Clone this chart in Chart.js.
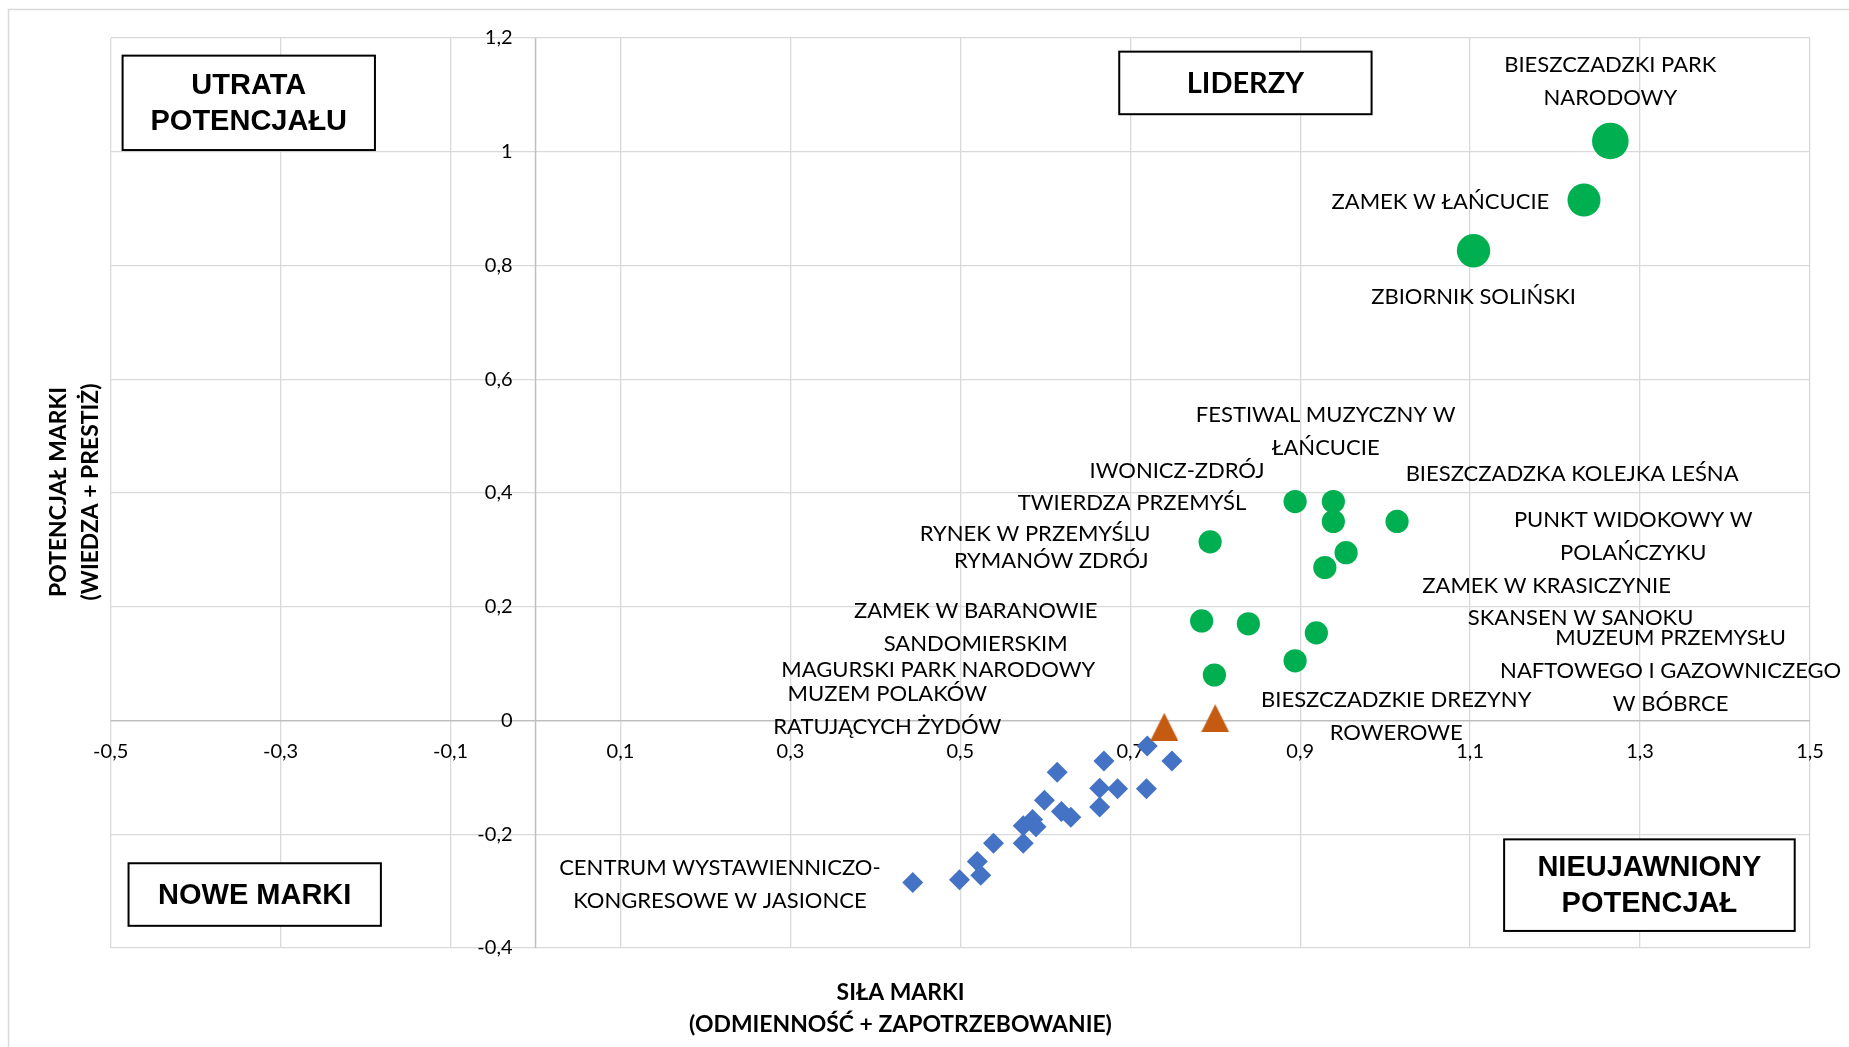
<!DOCTYPE html>
<html lang="pl">
<head>
<meta charset="utf-8">
<script src="https://cdn.jsdelivr.net/npm/chart.js@4"></script>
<style>
  html, body { margin: 0; padding: 0; background: #fff; }
  #wrap { width: 1849px; height: 1047px; }
</style>
</head>
<body>
<div id="wrap"><canvas id="c" width="1849" height="1047"></canvas></div>
<script>
// ---------------- DATA ----------------
const xTicks = [-0.5, -0.3, -0.1, 0.1, 0.3, 0.5, 0.7, 0.9, 1.1, 1.3, 1.5];
const yTicks = [-0.4, -0.2, 0, 0.2, 0.4, 0.6, 0.8, 1, 1.2];

// Liderzy (large green markers)
const leaderNames = ['BIESZCZADZKI PARK NARODOWY', 'ZAMEK W ŁAŃCUCIE', 'ZBIORNIK SOLIŃSKI'];
const leaderX = [1.265, 1.234, 1.104];
const leaderY = [1.019, 0.915, 0.826];

// other leaders (small green markers)
const greenNames = ['IWONICZ-ZDRÓJ', 'FESTIWAL MUZYCZNY W ŁAŃCUCIE', 'TWIERDZA PRZEMYŚL',
  'BIESZCZADZKA KOLEJKA LEŚNA', 'PUNKT WIDOKOWY W POLAŃCZYKU', 'ZAMEK W KRASICZYNIE',
  'RYNEK W PRZEMYŚLU', 'RYMANÓW ZDRÓJ', 'ZAMEK W BARANOWIE SANDOMIERSKIM',
  'SKANSEN W SANOKU', 'MUZEUM PRZEMYSŁU NAFTOWEGO I GAZOWNICZEGO W BÓBRCE', 'MAGURSKI PARK NARODOWY'];
const greenX = [0.894, 0.939, 0.939, 1.014, 0.954, 0.929, 0.794, 0.839, 0.784, 0.919, 0.894, 0.799];
const greenY = [0.385, 0.385, 0.350, 0.350, 0.295, 0.269, 0.314, 0.170, 0.175, 0.154, 0.105, 0.080];

// orange triangles
const orangeNames = ['MUZEM POLAKÓW RATUJĄCYCH ŻYDÓW', 'BIESZCZADZKIE DREZYNY ROWEROWE'];
const orangeX = [0.740, 0.800];
const orangeY = [-0.011, 0.004];

// blue diamonds (new brands)
const blueNames = ['', '', '', '', '', '', '', '', '', '', '', '', '', '', '', '', '', '', '',
  'CENTRUM WYSTAWIENNICZO-KONGRESOWE W JASIONCE'];
const blueX = [0.720, 0.749, 0.669, 0.614, 0.664, 0.685, 0.719, 0.599, 0.664, 0.619,
  0.630, 0.585, 0.574, 0.589, 0.574, 0.539, 0.520, 0.524, 0.499, 0.444];
const blueY = [-0.045, -0.071, -0.071, -0.091, -0.119, -0.120, -0.120, -0.140, -0.152, -0.160,
  -0.170, -0.174, -0.185, -0.187, -0.216, -0.216, -0.248, -0.272, -0.280, -0.285];

// ---------------- LABEL LAYOUT (axis units) ----------------
const labelLayout = [
  { name: 'BIESZCZADZKI PARK NARODOWY', lines: ['BIESZCZADZKI PARK', 'NARODOWY'], x: 1.265, y: 1.124 },
  { name: 'ZAMEK W ŁAŃCUCIE', lines: ['ZAMEK W ŁAŃCUCIE'], x: 1.065, y: 0.912 },
  { name: 'ZBIORNIK SOLIŃSKI', lines: ['ZBIORNIK SOLIŃSKI'], x: 1.104, y: 0.745 },
  { name: 'FESTIWAL MUZYCZNY W ŁAŃCUCIE', lines: ['FESTIWAL MUZYCZNY W', 'ŁAŃCUCIE'], x: 0.930, y: 0.509 },
  { name: 'IWONICZ-ZDRÓJ', lines: ['IWONICZ-ZDRÓJ'], x: 0.755, y: 0.439 },
  { name: 'TWIERDZA PRZEMYŚL', lines: ['TWIERDZA PRZEMYŚL'], x: 0.702, y: 0.382 },
  { name: 'RYNEK W PRZEMYŚLU', lines: ['RYNEK W PRZEMYŚLU'], x: 0.588, y: 0.328 },
  { name: 'RYMANÓW ZDRÓJ', lines: ['RYMANÓW ZDRÓJ'], x: 0.607, y: 0.280 },
  { name: 'ZAMEK W BARANOWIE SANDOMIERSKIM', lines: ['ZAMEK W BARANOWIE', 'SANDOMIERSKIM'], x: 0.518, y: 0.164 },
  { name: 'MAGURSKI PARK NARODOWY', lines: ['MAGURSKI PARK NARODOWY'], x: 0.474, y: 0.089 },
  { name: 'MUZEM POLAKÓW RATUJĄCYCH ŻYDÓW', lines: ['MUZEM POLAKÓW', 'RATUJĄCYCH ŻYDÓW'], x: 0.414, y: 0.018 },
  { name: 'BIESZCZADZKA KOLEJKA LEŚNA', lines: ['BIESZCZADZKA KOLEJKA LEŚNA'], x: 1.220, y: 0.433 },
  { name: 'PUNKT WIDOKOWY W POLAŃCZYKU', lines: ['PUNKT WIDOKOWY W', 'POLAŃCZYKU'], x: 1.292, y: 0.323 },
  { name: 'ZAMEK W KRASICZYNIE', lines: ['ZAMEK W KRASICZYNIE'], x: 1.190, y: 0.237 },
  { name: 'SKANSEN W SANOKU', lines: ['SKANSEN W SANOKU'], x: 1.230, y: 0.180 },
  { name: 'MUZEUM PRZEMYSŁU NAFTOWEGO I GAZOWNICZEGO W BÓBRCE', lines: ['MUZEUM PRZEMYSŁU', 'NAFTOWEGO I GAZOWNICZEGO', 'W BÓBRCE'], x: 1.336, y: 0.088 },
  { name: 'BIESZCZADZKIE DREZYNY ROWEROWE', lines: ['BIESZCZADZKIE DREZYNY', 'ROWEROWE'], x: 1.013, y: 0.008 },
  { name: 'CENTRUM WYSTAWIENNICZO-KONGRESOWE W JASIONCE', lines: ['CENTRUM WYSTAWIENNICZO-', 'KONGRESOWE W JASIONCE'], x: 0.217, y: -0.289 }
];

const quadrantBoxes = [
  { lines: ['UTRATA', 'POTENCJAŁU'], x0: -0.486, x1: -0.189, y0: 1.169, y1: 1.003, family: '"Liberation Sans", Arial, sans-serif' },
  { lines: ['LIDERZY'], x0: 0.687, x1: 0.984, y0: 1.176, y1: 1.066, family: 'Lato, sans-serif' },
  { lines: ['NOWE MARKI'], x0: -0.479, x1: -0.182, y0: -0.251, y1: -0.361, family: '"Liberation Sans", Arial, sans-serif' },
  { lines: ['NIEUJAWNIONY', 'POTENCJAŁ'], x0: 1.140, x1: 1.482, y0: -0.209, y1: -0.370, family: '"Liberation Sans", Arial, sans-serif' }
];

const xTitle = ['SIŁA MARKI', '(ODMIENNOŚĆ + ZAPOTRZEBOWANIE)'];
const yTitle = ['POTENCJAŁ MARKI', '(WIEDZA + PRESTIŻ)'];

// ---------------- HELPERS ----------------
const fmt = v => String(Math.round(v * 10) / 10).replace('.', ',');
const measureCtx = document.createElement('canvas').getContext('2d');
function fitSize(text, width, weight, family) {
  measureCtx.font = weight + ' 100px ' + family;
  return 100 * width / measureCtx.measureText(text).width;
}
const LABEL_FAMILY = 'Lato, "Open Sans", sans-serif';
const labelSize = fitSize('BIESZCZADZKA KOLEJKA LEŚNA', 333, 'normal', LABEL_FAMILY);
const titleSize = fitSize('(ODMIENNOŚĆ + ZAPOTRZEBOWANIE)', 423, 'bold', LABEL_FAMILY);

// triangle marker (Excel-style, centred on its bounding box)
const tri = document.createElement('canvas');
tri.width = 28; tri.height = 28;
(function () {
  const t = tri.getContext('2d');
  t.fillStyle = '#C55A11';
  t.beginPath(); t.moveTo(14, 0); t.lineTo(28, 28); t.lineTo(0, 28); t.closePath(); t.fill();
})();

const pts = (xs, ys) => xs.map((x, i) => ({ x: x, y: ys[i] }));

// ---------------- OVERLAY PLUGIN ----------------
const overlay = {
  id: 'overlay',
  beforeDraw(chart) {
    const c = chart.ctx;
    c.save();
    c.fillStyle = '#fff';
    c.fillRect(0, 0, chart.width, chart.height);
    c.strokeStyle = '#d9d9d9';
    c.lineWidth = 1.5;
    c.beginPath();
    c.moveTo(8.5, chart.height + 5); c.lineTo(8.5, 9.5); c.lineTo(chart.width + 5, 9.5);
    c.stroke();
    c.restore();
  },
  beforeDatasetsDraw(chart) {
    const c = chart.ctx, xs = chart.scales.x, ys = chart.scales.y;
    const x0 = xs.getPixelForValue(0), y0 = ys.getPixelForValue(0);
    c.save();
    // vertical axis line at x = 0
    c.strokeStyle = '#bfbfbf';
    c.lineWidth = 1.5;
    c.beginPath();
    c.moveTo(x0, chart.chartArea.top); c.lineTo(x0, chart.chartArea.bottom);
    c.stroke();
    // tick labels
    c.fillStyle = '#000';
    c.font = '20px ' + LABEL_FAMILY;
    c.textBaseline = 'middle';
    c.textAlign = 'right';
    yTicks.forEach(v => c.fillText(fmt(v), x0 - 23, ys.getPixelForValue(v)));
    c.textAlign = 'center';
    xTicks.forEach(v => c.fillText(fmt(v), xs.getPixelForValue(v), y0 + 31));
    c.restore();
  },
  afterDatasetsDraw(chart) {
    const c = chart.ctx, xs = chart.scales.x, ys = chart.scales.y;
    c.save();
    // data labels
    c.fillStyle = '#000';
    c.font = labelSize.toFixed(2) + 'px ' + LABEL_FAMILY;
    c.textAlign = 'center';
    c.textBaseline = 'middle';
    const lh = 33;
    labelLayout.forEach(l => {
      const cx = xs.getPixelForValue(l.x), cy = ys.getPixelForValue(l.y);
      const n = l.lines.length;
      l.lines.forEach((s, i) => c.fillText(s, cx, cy + (i - (n - 1) / 2) * lh));
    });
    // quadrant boxes
    quadrantBoxes.forEach(b => {
      const px0 = xs.getPixelForValue(b.x0), px1 = xs.getPixelForValue(b.x1);
      const py0 = ys.getPixelForValue(b.y0), py1 = ys.getPixelForValue(b.y1);
      c.fillStyle = '#fff';
      c.fillRect(px0, py0, px1 - px0, py1 - py0);
      c.strokeStyle = '#000';
      c.lineWidth = 2;
      c.strokeRect(px0, py0, px1 - px0, py1 - py0);
      c.fillStyle = '#000';
      c.font = 'bold 29px ' + b.family;
      const cx = (px0 + px1) / 2, cy = (py0 + py1) / 2 + 1;
      const n = b.lines.length;
      b.lines.forEach((s, i) => c.fillText(s, cx, cy + (i - (n - 1) / 2) * 36));
    });
    // axis titles
    c.font = 'bold ' + titleSize.toFixed(2) + 'px ' + LABEL_FAMILY;
    c.fillText(xTitle[0], 900.5, 993);
    c.fillText(xTitle[1], 900.5, 1025);
    c.translate(75, 492);
    c.rotate(-Math.PI / 2);
    c.fillText(yTitle[0], 0, -16);
    c.fillText(yTitle[1], 0, 16);
    c.restore();
  }
};

// ---------------- CHART ----------------
new Chart(document.getElementById('c'), {
  type: 'scatter',
  data: {
    datasets: [
      { label: 'Liderzy', data: pts(leaderX, leaderY), pointStyle: 'circle',
        pointRadius: [18.3, 16.5, 16.7], backgroundColor: '#00B050', borderWidth: 0 },
      { label: 'Pozostali liderzy', data: pts(greenX, greenY), pointStyle: 'circle',
        pointRadius: 11.6, backgroundColor: '#00B050', borderWidth: 0 },
      { label: 'Nieujawniony potencjał', data: pts(orangeX, orangeY), pointStyle: tri,
        pointRadius: 14, backgroundColor: '#C55A11', borderWidth: 0 },
      { label: 'Nowe marki', data: pts(blueX, blueY), pointStyle: 'rectRot',
        pointRadius: 10.5, backgroundColor: '#4472C4', borderWidth: 0 }
    ]
  },
  options: {
    responsive: false,
    animation: false,
    devicePixelRatio: 1,
    layout: { padding: { left: 110.7, right: 39, top: 38, bottom: 99 } },
    plugins: { legend: { display: false }, tooltip: { enabled: false } },
    scales: {
      x: {
        type: 'linear', min: -0.5, max: 1.5,
        afterBuildTicks: s => { s.ticks = xTicks.map(v => ({ value: v })); },
        ticks: { display: false },
        grid: { color: '#d9d9d9', lineWidth: 1.3, drawTicks: false },
        border: { display: false }
      },
      y: {
        type: 'linear', min: -0.4, max: 1.2,
        afterBuildTicks: s => { s.ticks = yTicks.map(v => ({ value: v })); },
        ticks: { display: false },
        grid: { color: ctx => (ctx.tick && Math.abs(ctx.tick.value) < 1e-9 ? '#bfbfbf' : '#d9d9d9'),
                lineWidth: ctx => (ctx.tick && Math.abs(ctx.tick.value) < 1e-9 ? 1.5 : 1.3), drawTicks: false },
        border: { display: false }
      }
    }
  },
  plugins: [overlay]
});
</script>
</body>
</html>
